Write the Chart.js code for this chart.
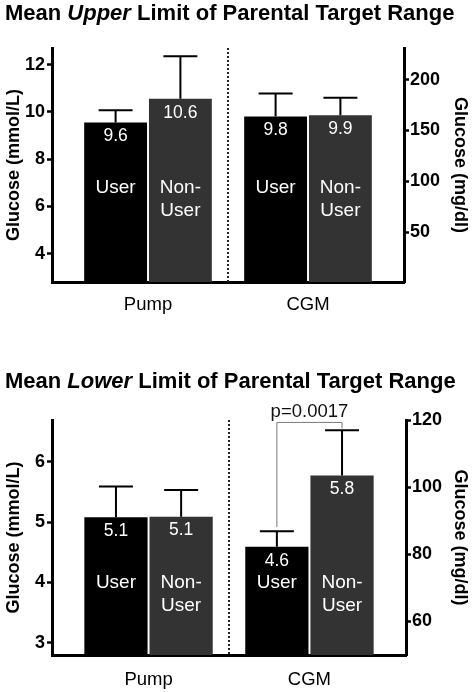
<!DOCTYPE html>
<html>
<head>
<meta charset="utf-8">
<script src="https://cdn.jsdelivr.net/npm/chart.js@4.4.1/dist/chart.umd.min.js"></script>
<style>
    body { margin: 0; background: #fff; font-family: "Liberation Sans", Arial, sans-serif; }
    .panel { position: absolute; left: 0; width: 475px; }
    .titulo { position: absolute; left: 5px; font-size: 22px; line-height: 22px; font-weight: bold; white-space: nowrap; color: #000; }
    canvas { display: block; }
</style>
</head>
<body>
<div class="panel" style="top:0; height:330px;">
    <canvas id="graficaAlta" width="475" height="330"></canvas>
    <div class="titulo" style="top:2px;">Mean <i>Upper</i> Limit of Parental Target Range</div>
</div>
<div class="panel" style="top:330px; height:362px;">
    <canvas id="graficaBaja" width="475" height="362"></canvas>
    <div class="titulo" style="top:40px;">Mean <i>Lower</i> Limit of Parental Target Range</div>
</div>
<script>
// Datos de las graficas
const grupos = ['Pump', 'CGM'];
const series = ['User', 'Non-User'];

// Limite superior (mmol/L)
const altaUser = [9.55, 9.8];
const altaNonUser = [10.55, 9.85];
const altaErrUser = [10.07, 10.77];
const altaErrNonUser = [12.35, 10.59];
const altaEtiqUser = ['9.6', '9.8'];
const altaEtiqNonUser = ['10.6', '9.9'];
const altaTicksMmol = [4, 6, 8, 10, 12];
const altaTicksMg = [50, 100, 150, 200];

// Limite inferior (mmol/L)
const bajaUser = [5.08, 4.59];
const bajaNonUser = [5.09, 5.77];
const bajaErrUser = [5.59, 4.85];
const bajaErrNonUser = [5.53, 6.52];
const bajaEtiqUser = ['5.1', '4.6'];
const bajaEtiqNonUser = ['5.1', '5.8'];
const bajaTicksMmol = [3, 4, 5, 6];
const bajaTicksMg = [60, 80, 100, 120];
const pValor = 'p=0.0017';

const fuente = '"Liberation Sans", Arial, sans-serif';
Chart.defaults.font.family = fuente;
Chart.defaults.color = '#000';

// Linea punteada entre Pump y CGM
const pluginDivisor = {
    id: 'divisor',
    beforeDatasetsDraw(chart) {
        const { ctx, chartArea, scales: { x } } = chart;
        const px = x.getPixelForValue(0.5);
        ctx.save();
        ctx.strokeStyle = '#222';
        ctx.lineWidth = 2;
        ctx.setLineDash([2, 2]);
        ctx.beginPath();
        ctx.moveTo(px, chartArea.top);
        ctx.lineTo(px, chartArea.bottom);
        ctx.stroke();
        ctx.restore();
    }
};

// Barras de error (solo hacia arriba) y textos dentro de las barras
const pluginBarras = {
    id: 'barrasError',
    afterDatasetsDraw(chart, args, opts) {
        const ctx = chart.ctx;
        const y = chart.scales.y;
        chart.data.datasets.forEach((ds, i) => {
            const meta = chart.getDatasetMeta(i);
            const partes = ds.label.includes('-') ? [ds.label.split('-')[0] + '-', ds.label.split('-')[1]] : [ds.label];
            meta.data.forEach((bar, j) => {
                const yErr = y.getPixelForValue(ds.errores[j]);
                ctx.save();
                ctx.strokeStyle = '#000';
                ctx.lineWidth = 2;
                ctx.beginPath();
                ctx.moveTo(bar.x, bar.y);
                ctx.lineTo(bar.x, yErr);
                ctx.moveTo(bar.x - 17, yErr);
                ctx.lineTo(bar.x + 17, yErr);
                ctx.stroke();

                ctx.fillStyle = '#fff';
                ctx.textAlign = 'center';
                ctx.textBaseline = 'middle';
                ctx.font = '17.5px ' + fuente;
                ctx.fillText(ds.etiquetas[j], bar.x, bar.y + 14);

                ctx.font = '19px ' + fuente;
                const yNombre = y.getPixelForValue(opts.nombreY);
                partes.forEach((linea, k) => ctx.fillText(linea, bar.x, yNombre + k * 23));
                ctx.restore();
            });
        });
    }
};

// Corchete con el valor p (solo en la grafica inferior)
const pluginP = {
    id: 'valorP',
    afterDatasetsDraw(chart, args, opts) {
        if (!opts.texto) return;
        const { ctx, scales: { y } } = chart;
        const ds = chart.data.datasets;
        const b1 = chart.getDatasetMeta(0).data[1];
        const b2 = chart.getDatasetMeta(1).data[1];
        const e1 = y.getPixelForValue(ds[0].errores[1]) - 4;
        const e2 = y.getPixelForValue(ds[1].errores[1]) - 2;
        const yb = y.getPixelForValue(opts.nivel);
        ctx.save();
        ctx.strokeStyle = '#777';
        ctx.lineWidth = 1;
        ctx.beginPath();
        ctx.moveTo(b1.x, e1);
        ctx.lineTo(b1.x, yb);
        ctx.lineTo(b2.x, yb);
        ctx.lineTo(b2.x, e2);
        ctx.stroke();
        ctx.fillStyle = '#111';
        ctx.font = '18.5px ' + fuente;
        ctx.textAlign = 'center';
        ctx.textBaseline = 'middle';
        ctx.fillText(opts.texto, (b1.x + b2.x) / 2, yb - 11);
        ctx.restore();
    }
};

function crearGrafica(id, cfg) {
    const ctx = document.getElementById(id).getContext('2d');
    const dataset = (label, valores, errores, etiquetas, color) => ({
        label: label,
        data: valores.map((v, i) => ({ x: i, y: v })),
        errores: errores,
        etiquetas: etiquetas,
        backgroundColor: color,
        borderWidth: 0,
        categoryPercentage: 0.81,
        barPercentage: 0.97
    });

    return new Chart(ctx, {
        type: 'bar',
        data: {
            datasets: [
                dataset(series[0], cfg.user, cfg.errUser, cfg.etiqUser, '#000000'),
                dataset(series[1], cfg.nonUser, cfg.errNonUser, cfg.etiqNonUser, '#333333')
            ]
        },
        plugins: [pluginDivisor, pluginBarras, pluginP],
        options: {
            responsive: false,
            animation: false,
            layout: { padding: { top: cfg.arriba, left: 0, right: 0, bottom: 0 } },
            plugins: {
                legend: { display: false },
                tooltip: { enabled: false },
                barrasError: { nombreY: cfg.nombreY },
                valorP: { texto: cfg.pValor, nivel: cfg.nivelP }
            },
            scales: {
                x: {
                    type: 'linear', min: -0.6, max: 1.6, offset: false,
                    afterBuildTicks: s => { s.ticks = grupos.map((g, i) => ({ value: i })); },
                    afterFit: s => { s.height = cfg.abajo; s.paddingLeft = 0; s.paddingRight = 0; },
                    grid: { display: false, drawTicks: false },
                    border: { display: true, color: '#000', width: 3 },
                    ticks: { callback: v => grupos[v], font: { size: 18.5 }, padding: cfg.padX, color: '#000', maxRotation: 0, autoSkip: false }
                },
                y: {
                    position: 'left', min: cfg.min, max: cfg.max,
                    afterBuildTicks: s => { s.ticks = cfg.ticksMmol.map(v => ({ value: v })); },
                    afterFit: s => { s.width = 52; s.paddingTop = 0; s.paddingBottom = 0; },
                    grid: { drawOnChartArea: false, tickLength: 5, tickWidth: 2.5, tickColor: '#000' },
                    border: { color: '#000', width: 3 },
                    ticks: { font: { size: 18, weight: 'bold' }, padding: 2, color: '#000' },
                    title: { display: true, text: 'Glucose (mmol/L)', font: { size: 18, weight: 'bold' }, padding: { top: 3, bottom: 0 }, color: '#000' }
                },
                y2: {
                    position: 'right', min: cfg.minMg, max: cfg.maxMg,
                    afterBuildTicks: s => { s.ticks = cfg.ticksMg.map(v => ({ value: v })); },
                    afterFit: s => { s.width = cfg.anchoDer; s.paddingTop = 0; s.paddingBottom = 0; },
                    grid: { drawOnChartArea: false, tickLength: 5, tickWidth: 2.5, tickColor: '#000' },
                    border: { color: '#000', width: 3 },
                    ticks: { font: { size: 18, weight: 'bold' }, padding: 1, color: '#000' },
                    title: { display: true, text: 'Glucose (mg/dl)', font: { size: 18, weight: 'bold' }, padding: { top: 4, bottom: 0 }, color: '#000' }
                }
            }
        }
    });
}

document.addEventListener('DOMContentLoaded', function() {
    crearGrafica('graficaAlta', {
        user: altaUser, nonUser: altaNonUser,
        errUser: altaErrUser, errNonUser: altaErrNonUser,
        etiqUser: altaEtiqUser, etiqNonUser: altaEtiqNonUser,
        ticksMmol: altaTicksMmol, ticksMg: altaTicksMg,
        min: 2.8, max: 12.7, minMg: 1, maxMg: 231,
        arriba: 48, abajo: 48, anchoDer: 71, padX: 12,
        nombreY: 6.8
    });

    crearGrafica('graficaBaja', {
        user: bajaUser, nonUser: bajaNonUser,
        errUser: bajaErrUser, errNonUser: bajaErrNonUser,
        etiqUser: bajaEtiqUser, etiqNonUser: bajaEtiqNonUser,
        ticksMmol: bajaTicksMmol, ticksMg: bajaTicksMg,
        min: 2.8, max: 6.69, minMg: 50, maxMg: 120,
        arriba: 90, abajo: 37, anchoDer: 69, padX: 14,
        nombreY: 4.0, pValor: pValor, nivelP: 6.65
    });
});
</script>
</body>
</html>
